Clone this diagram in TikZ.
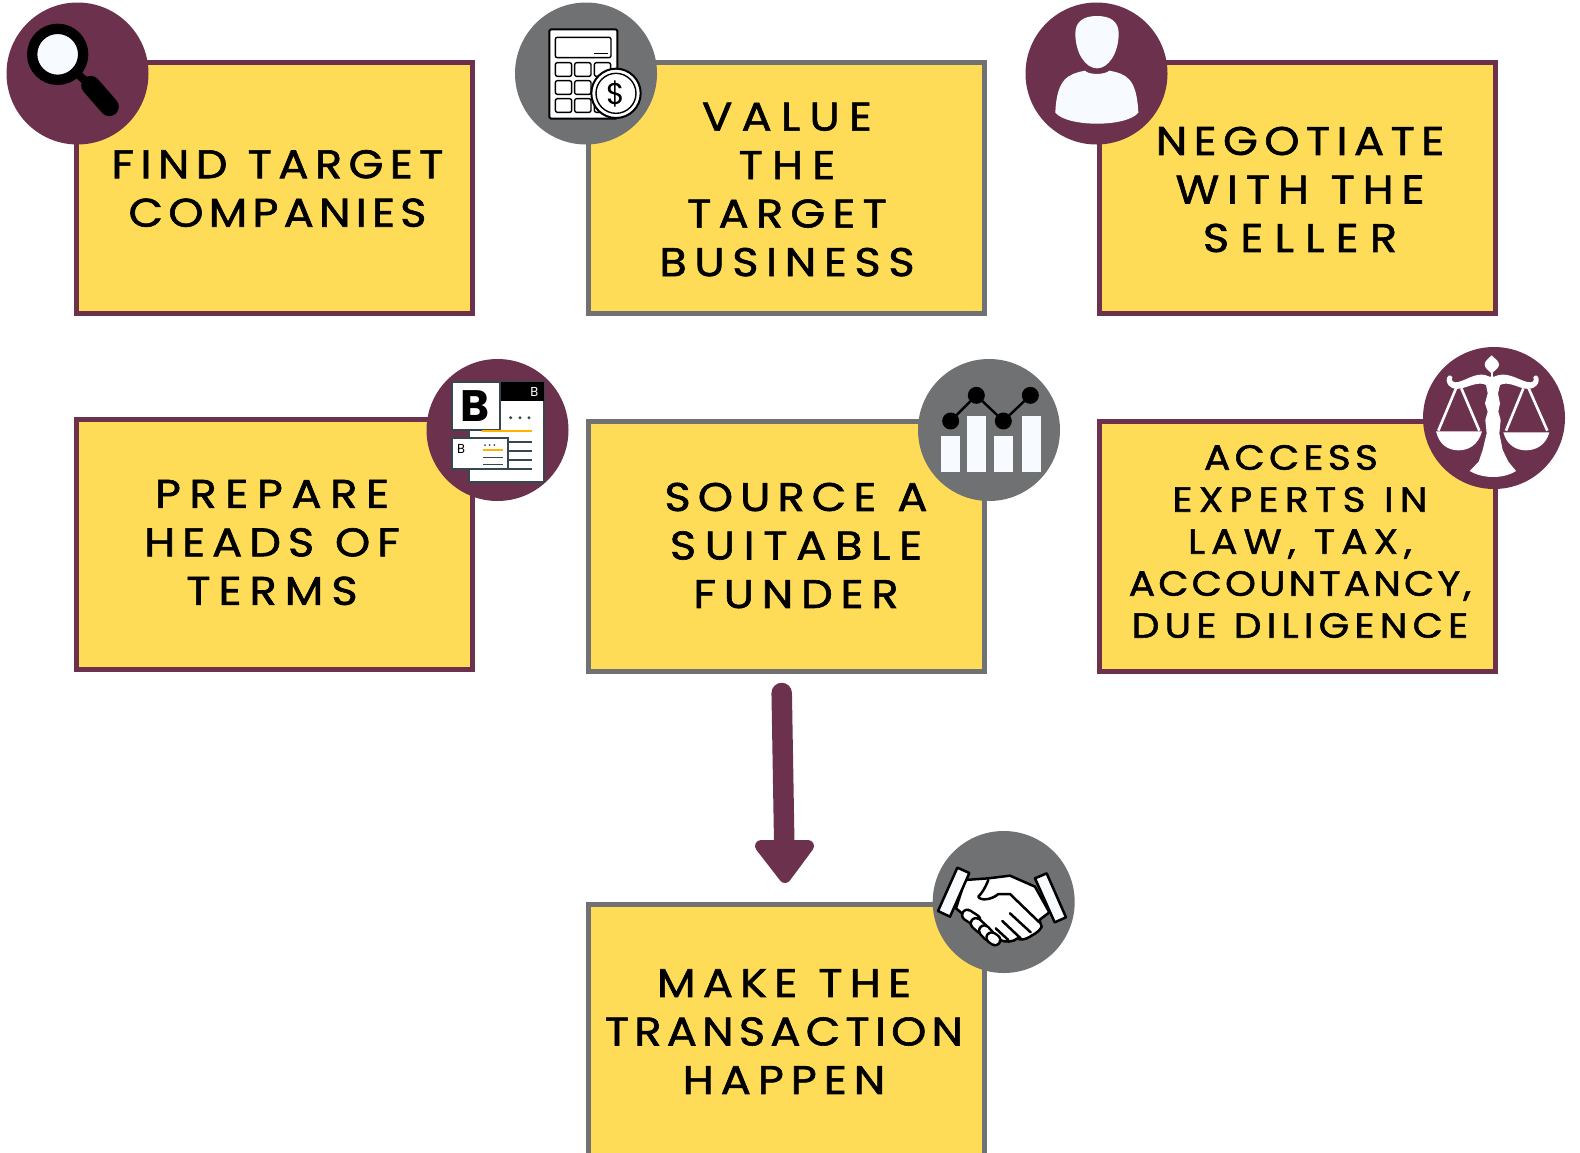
\documentclass[tikz,border=0pt]{standalone}
\usepackage{fontspec}
\setmainfont{Poppins}[LetterSpace=12,WordSpace=1.1,FakeStretch=1.12,FakeBold=1.5]
\newfontfamily\iconfont{Poppins}
\newcommand{\lsp}[2]{{\addfontfeature{LetterSpace=#1}#2}}
\definecolor{maroon}{HTML}{6C314D}
\definecolor{slategr}{HTML}{707173}
\definecolor{sun}{HTML}{FFDC58}
\definecolor{snow}{HTML}{F7FBFF}
\definecolor{ink}{HTML}{37474F}
\definecolor{amber}{HTML}{FFB300}
\tikzset{
 px/.style={x=1pt,y=-1pt},
 zoomed/.style={shift={#1},x=0.33333pt,y=-0.33333pt},
 boxm/.style={draw=maroon,line width=5pt,fill=sun,rectangle,inner sep=0pt,minimum width=396pt,minimum height=251pt},
 boxg/.style={boxm,draw=slategr},
 badgem/.style={circle,fill=maroon,inner sep=0pt,minimum size=142pt},
 badgeg/.style={badgem,fill=slategr},
 caption/.style={align=center,inner sep=0pt,text=black,font=\fontsize{40}{48.5}\selectfont},
 captionsm/.style={caption,font=\fontsize{35}{42}\selectfont},
 ln/.style={draw=black,line width=2.5pt,line cap=round,line join=round},
}
\begin{document}
\begin{tikzpicture}[px]
\useasboundingbox (0,0) rectangle (1580,1152);
\clip (0,0) rectangle (1580,1152);
\fill[white] (0,0) rectangle (1580,1152);
% boxes
\node[boxm] (b1) at (274.5,188) {};
\node[boxg] (b2) at (786.5,188) {};
\node[boxm] (b3) at (1297,188) {};
\node[boxm,minimum height=250pt] (b4) at (274.5,544.5) {};
\node[boxg,minimum height=250pt] (b5) at (786.5,546.5) {};
\node[boxm,minimum height=250pt] (b6) at (1297,546.5) {};
\node[boxg,minimum height=295pt] (b7) at (786.5,1052) {};
% badges
\node[badgem] (c1) at (77.5,73.5) {};
\node[badgeg] (c2) at (586,73.5) {};
\node[badgem] (c3) at (1096.5,73.5) {};
\node[badgem] (c4) at (497.5,430) {};
\node[badgeg] (c5) at (989,430) {};
\node[badgem] (c6) at (1494,418) {};
\node[badgeg] (c7) at (1003.7,902) {};
% captions
\node[caption] (t1) at (277.5,188.5) {\lsp{16}{FIND TARGET}\\\lsp{13}{COMPANIES}};
\node[caption] (t2) at (787,189.5) {\lsp{23}{VALUE}\\\lsp{23}{THE}\\\lsp{18}{TARGET}\\\lsp{19}{BUSINESS}};
\node[caption] (t3) at (1300,189.5) {\lsp{16}{NEGOTIATE}\\\lsp{19.5}{WITH THE}\\\lsp{28}{SELLER}};
\node[caption] (t4) at (272,542.5) {\lsp{21.5}{PREPARE}\\\lsp{17.4}{HEADS OF}\\\lsp{20}{TERMS}};
\node[caption] (t5) at (796,545.5) {\lsp{17.7}{SOURCE A}\\\lsp{21.6}{SUITABLE}\\\lsp{19.5}{FUNDER}};
\node[captionsm] (t6) at (1300,541.5) {\lsp{12}{ACCESS}\hspace*{18pt}\\\lsp{18}{EXPERTS IN}\\\lsp{17.4}{LAW, TAX,}\\\lsp{9}{ACCOUNTANCY,}\\\lsp{15}{DUE DILIGENCE}};
\node[caption] (t7) at (784,1031.5) {\lsp{18}{MAKE THE}\\\lsp{13}{TRANSACTION}\\\lsp{17.5}{HAPPEN}};
% arrow
\coordinate (as) at (781.7,693);
\coordinate (ae) at (784.3,846);
\coordinate (h1) at (761,846);
\coordinate (h2) at (808,846);
\coordinate (h3) at (785,877);
\draw[maroon,line width=20.5pt,line cap=round] (as) -- (ae);
\filldraw[maroon,line width=12pt,line join=round] (h1) -- (h2) -- (h3) -- cycle;
% magnifier
\begin{scope}[zoomed={(0,0)}]
\draw[black,line width=8pt] (225,215) -- (270,255);
\draw[black,line width=19pt,line cap=round] (272,256) -- (328,320);
\filldraw[draw=black,fill=snow,line width=10.3pt] (173,163) circle (76.5);
\end{scope}
% calculator
\begin{scope}[zoomed={(500,0)}]
\draw[ln,line width=2pt,fill=white,rounded corners=1.5pt] (148,88) rectangle (352,356);
\draw[ln,rounded corners=2pt,line width=1.4pt] (166,112) rectangle (333,173);
\draw[ln,line width=1.4pt,line cap=butt] (283,160) -- (325,160);
\foreach \cx in {166,224,283}\foreach \cy in {188,242,296}
  \draw[ln,line width=1.4pt,rounded corners=2pt] (\cx,\cy) rectangle ++(49,41);
\filldraw[ln,line width=2pt,fill=white] (348,280) circle (74);
\draw[ln,line width=1.4pt] (348,280) circle (60);
\node[inner sep=0pt,text=black,font=\iconfont\fontsize{30}{30}\selectfont] (dollar) at (346,282) {\$};
\end{scope}
% person
\begin{scope}[zoomed={(1020,0)}]
\fill[snow] (166,100) .. controls (166,65) and (190,48) .. (231,48) .. controls (272,48) and (296,65) .. (296,100) .. controls (296,160) and (265,205) .. (231,205) .. controls (197,205) and (166,160) .. (166,100) -- cycle;
\fill[snow] (195,212) .. controls (205,225) and (255,225) .. (268,212) .. controls (320,222) and (350,235) .. (355,338) .. controls (320,382) and (142,382) .. (106,338) .. controls (110,235) and (145,222) .. (195,212) -- cycle;
\end{scope}
% terms icon
\begin{scope}[zoomed={(420,350)}]
\filldraw[draw=ink,fill=white,line width=2pt] (147,97) rectangle (373,396);
\fill[black] (240,97) rectangle (373,152);
\node[inner sep=0pt,text=white,font=\iconfont\fontsize{13}{13}\selectfont] (hdrb) at (343,127) {B};
\filldraw[draw=ink,fill=white,line width=2pt] (97,97) rectangle (240,240);
\node[inner sep=0pt,text=black,font=\iconfont\fontsize{44}{44}\bfseries\selectfont] (bigb) at (166,167) {B};
\foreach \dx in {272,300,327} \fill[ink] (\dx,203) circle (5);
\draw[amber,line width=2pt] (186,244) -- (335,244);
\foreach \ly in {276,303,330,357} \draw[ink,line width=1.8pt] (265,\ly) -- (335,\ly);
\filldraw[draw=ink,fill=white,line width=2pt] (97,265) rectangle (265,358);
\node[inner sep=0pt,text=black,font=\iconfont\fontsize{13}{13}\selectfont] (smallb) at (123,297) {B};
\foreach \dx in {195,209,223} \fill[ink] (\dx,285) circle (3);
\draw[amber,line width=1.6pt] (190,300) -- (248,300);
\draw[ink,line width=1.6pt] (190,323) -- (248,323);
\draw[ink,line width=1.6pt] (190,344) -- (248,344);
\end{scope}
% chart icon
\begin{scope}[zoomed={(910,350)}]
\fill[snow] (94,258) rectangle (151,367);
\fill[snow] (171,199) rectangle (228,367);
\fill[snow] (252,258) rectangle (309,367);
\fill[snow] (337,199) rectangle (393,367);
\draw[black,line width=2.4pt] (122,213) -- (199,136) -- (280,213) -- (361,136);
\foreach \p in {(122,213),(199,136),(280,213),(361,136)} \fill[black] \p circle (25.5);
\end{scope}
% scales icon
\begin{scope}[zoomed={(1420,340)}]
\fill[white] (215,46) .. controls (226,58) and (237,62) .. (237,74) .. controls (237,84) and (224,92) .. (215,100) .. controls (206,92) and (194,84) .. (194,74) .. controls (194,62) and (204,58) .. (215,46) -- cycle;
\draw[white,line width=2pt] (215,95) -- (215,115);
\fill[white] (222,110) .. controls (260,92) and (290,118) .. (322,126) .. controls (338,130) and (345,122) .. (340,112) .. controls (345,100) and (358,108) .. (356,122) .. controls (352,145) and (330,150) .. (310,145) .. controls (285,138) and (262,124) .. (240,135) -- (234,160) -- (240,190) -- (235,215) -- (242,240) -- (238,280) -- (248,330) -- (265,365) -- (288,393) .. controls (250,417) and (190,417) .. (149,393) -- (176,365) -- (188,330) -- (200,280) -- (196,240) -- (203,215) -- (195,190) -- (203,160) -- (198,135) .. controls (178,124) and (150,138) .. (125,145) .. controls (105,150) and (84,145) .. (80,122) .. controls (78,108) and (92,100) .. (97,112) .. controls (92,122) and (100,130) .. (115,126) .. controls (145,118) and (175,92) .. (208,110) -- cycle;
\draw[white,line width=2.6pt] (108,145) -- (55,272) (124,145) -- (178,272) (310,145) -- (258,272) (326,145) -- (382,272);
\fill[white] (48,274) -- (186,274) .. controls (175,315) and (145,331) .. (116,331) .. controls (85,331) and (58,315) .. (48,274) -- cycle;
\fill[white] (250,277) -- (388,277) .. controls (378,315) and (348,331) .. (318,331) .. controls (288,331) and (260,315) .. (250,277) -- cycle;
\end{scope}
% handshake icon
\begin{scope}[zoomed={(930,825)}]
\filldraw[ln,fill=white] (105,165) -- (175,160) -- (240,152) -- (315,185) -- (358,262) -- (328,285) -- (335,305) .. controls (325,325) and (305,330) .. (300,335) .. controls (285,345) and (270,345) .. (262,340) .. controls (250,352) and (225,352) .. (210,345) -- (150,310) -- (78,250) -- cycle;
\filldraw[ln,fill=white] (175,165) .. controls (165,190) and (155,205) .. (145,215) .. controls (150,228) and (185,225) .. (205,207) -- (240,207) -- (328,292);
\draw[ln] (240,265) -- (302,322) (217,288) -- (272,340) (197,310) -- (235,345);
\foreach \a/\b/\c/\d in {112/270/135/285,138/295/155/310,163/317/175/330,185/338/195/345}{
  \draw[black,line width=13pt,line cap=round] (\a,\b) -- (\c,\d);
  \draw[white,line width=8pt,line cap=round] (\a,\b) -- (\c,\d);
}
\filldraw[ln,fill=snow] (82,128) -- (118,144) -- (60,275) -- (24,258) -- cycle;
\filldraw[ln,fill=snow] (315,160) -- (350,145) -- (408,277) -- (374,292) -- cycle;
\end{scope}
\end{tikzpicture}
\end{document}
